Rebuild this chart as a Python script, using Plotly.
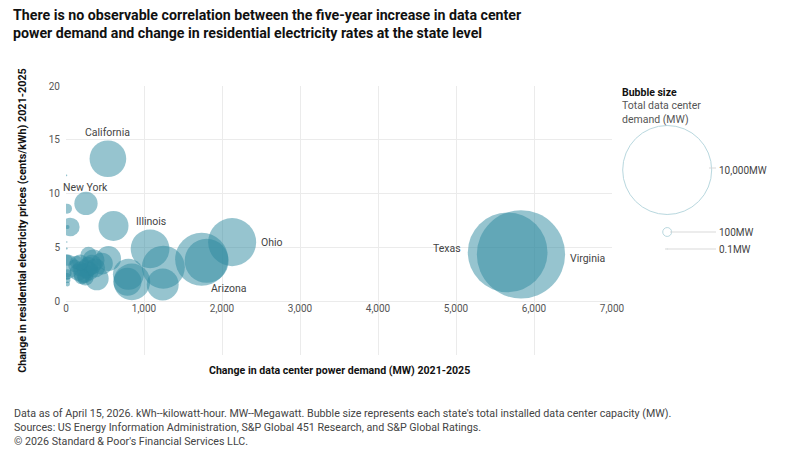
import plotly.graph_objects as go

# data
states = ["Virginia", "Texas", "California", "New York", "Ohio", "Arizona", "Illinois",
          "", "", "", "", "", "", "", "", "", "", "", "", "", "", "", "", "", "", "",
          "", "", "", "", "", "", "", "", "", "", "", "", "", "",
          "", "", "", "", ""]
demand_change = [5833, 5662, 537, 256, 2130, 1803, 1078,
                 1739, 1248, 1240, 609, 844, 788, 800, 545, 460, 396, 285, 353, 289,
                 225, 250, 157, 300, 110, 180, 5, 20, 20, 20, 20, 15, 10, 5, 13, 55,
                 20, 10, 230, 135,
                 330, 260, 380, 200, 183]
price_change = [4.35, 4.54, 13.24, 9.09, 5.49, 3.75, 4.87,
                3.9, 3.16, 1.55, 7.0, 1.8, 1.8, 2.5, 3.97, 3.5, 2.1, 3.2, 3.8, 4.3,
                2.6, 2.2, 2.7, 2.8, 3.3, 3.0, 3.2, 3.8, 2.6, 1.95, 1.6, 2.3, 5.5, 11.7, 8.6, 6.9,
                6.9, 4.9, 2.4, 3.6,
                3.4, 3.0, 3.1, 2.3, 3.6]
total_capacity = [9840, 8020, 1700, 685, 2910, 2440, 1900,
                  3550, 2330, 1290, 1136, 1700, 990, 1210, 790, 600, 700, 500, 600, 330,
                  530, 330, 380, 430, 200, 280, 790, 150, 80, 40, 30, 60, 3, 4, 126, 440,
                  20, 5, 270, 220,
                  500, 450, 450, 300, 320]

legend_values = [10000, 100, 0.1]
legend_labels = ["10,000MW", "100MW", "0.1MW"]

x_ticks = [0, 1000, 2000, 3000, 4000, 5000, 6000, 7000]
y_ticks = [-5, 0, 5, 10, 15, 20]
y_ticktext = ["", "0", "5", "10", "15", "20"]

# label placement (pixel offsets from each bubble centre)
label_pos = {
    "California": (0, 26, "center"),
    "New York": (0, 16, "center"),
    "Illinois": (1, 27, "center"),
    "Ohio": (27, 0, "left"),
    "Arizona": (22, -28, "center"),
    "Texas": (-45, 4, "right"),
    "Virginia": (47, -4, "left"),
}

W, H = 785, 450
OFF = 8  # page margin of the browser: positions below are screen pixels minus this
FONT = "Roboto"
bubble_color = "rgb(45,137,159)"
grid_color = "#ebebeb"
max_bubble_px = 89
ref_mw = 10000
sizeref = 2 * ref_mw / max_bubble_px ** 2


def px(v):
    return (v - OFF) / W


def py(v):
    return 1 - (v - OFF) / H


fig = go.Figure()

fig.add_trace(go.Scatter(
    x=demand_change,
    y=price_change,
    mode="markers",
    marker=dict(
        size=total_capacity,
        sizemode="area",
        sizeref=sizeref,
        color=bubble_color,
        opacity=0.5,
        line=dict(width=0),
    ),
    hovertext=states,
    showlegend=False,
))

# bubble size key, on its own axes in pixel units
key_y = [170, 232, 249]
fig.add_trace(go.Scatter(
    x=[45] * len(legend_values),
    y=[k - OFF for k in key_y],
    mode="markers",
    marker=dict(
        size=legend_values,
        sizemode="area",
        sizeref=sizeref,
        color="rgba(255,255,255,0)",
        line=dict(width=1, color="#9cc8d2"),
    ),
    xaxis="x2",
    yaxis="y2",
    hoverinfo="skip",
    showlegend=False,
))

annotations = []
for name, x, y in zip(states, demand_change, price_change):
    if name in label_pos:
        dx, dy, anchor = label_pos[name]
        annotations.append(dict(
            x=x, y=y, xref="x", yref="y", text=name, showarrow=False,
            xshift=dx, yshift=dy, xanchor=anchor, yanchor="middle",
            font=dict(family=FONT, size=10.5, color="#444"),
        ))

for lbl, ky in zip(legend_labels, key_y):
    annotations.append(dict(
        x=px(717), y=py(ky), xref="paper", yref="paper", text=lbl,
        showarrow=False, xanchor="left", yanchor="middle",
        font=dict(family=FONT, size=10, color="#444"),
    ))

annotations += [
    dict(x=px(12), y=py(6), xref="paper", yref="paper", xanchor="left", yanchor="top",
         align="left", showarrow=False, borderpad=0,
         text="<b>There is no observable correlation between the five-year increase in data center<br>"
              "power demand and change in residential electricity rates at the state level</b>",
         font=dict(family=FONT, size=14.2, color="#111")),
    dict(x=px(620), y=py(84), xref="paper", yref="paper", xanchor="left", yanchor="top",
         text="<b>Bubble size</b>", showarrow=False,
         font=dict(family=FONT, size=10.5, color="#111")),
    dict(x=px(620), y=py(97), xref="paper", yref="paper", xanchor="left", yanchor="top",
         text="Total data center<br>demand (MW)", showarrow=False, align="left",
         font=dict(family=FONT, size=10.5, color="#555")),
    dict(x=px(339), y=py(370), xref="paper", yref="paper", xanchor="center", yanchor="middle",
         text="<b>Change in data center power demand (MW) 2021-2025</b>", showarrow=False,
         font=dict(family=FONT, size=10.6, color="#111")),
    dict(x=px(12), y=py(405), xref="paper", yref="paper", xanchor="left", yanchor="top",
         align="left", showarrow=False,
         text="Data as of April 15, 2026. kWh--kilowatt-hour. MW--Megawatt. Bubble size represents "
              "each state's total installed data center capacity (MW).<br>"
              "Sources: US Energy Information Administration, S&P Global 451 Research, and S&P Global Ratings.<br>"
              "© 2026 Standard & Poor's Financial Services LLC.",
         font=dict(family=FONT, size=10.7, color="#444")),
]

shapes = [
    dict(type="line", xref="paper", yref="paper", x0=px(709), x1=px(716),
         y0=py(168), y1=py(168), line=dict(color="#d9d9d9", width=1)),
    dict(type="line", xref="paper", yref="paper", x0=px(670), x1=px(716),
         y0=py(232), y1=py(232), line=dict(color="#d9d9d9", width=1)),
    dict(type="line", xref="paper", yref="paper", x0=px(665), x1=px(716),
         y0=py(249), y1=py(249), line=dict(color="#d9d9d9", width=1)),
]

fig.update_layout(
    width=W, height=H,
    margin=dict(l=0, r=0, t=0, b=0, autoexpand=False),
    paper_bgcolor="white",
    plot_bgcolor="white",
    xaxis=dict(
        domain=[px(66), px(612)],
        range=[0, 7000],
        tickvals=x_ticks,
        tickformat=",d",
        showgrid=True, gridcolor=grid_color, gridwidth=1,
        zeroline=False, showline=False, ticks="",
        anchor="free", position=py(301),
        automargin=False,
        tickfont=dict(family=FONT, size=10, color="#555"),
    ),
    yaxis=dict(
        domain=[py(355), py(86)],
        range=[-5, 20],
        tickvals=y_ticks,
        ticktext=y_ticktext,
        showgrid=True, gridcolor=grid_color, gridwidth=1,
        zeroline=False, showline=False, ticks="",
        ticklabelstandoff=5,
        automargin=False,
        tickfont=dict(family=FONT, size=10, color="#555"),
        title=dict(text="<b>Change in residential electricity prices (cents/kWh) 2021-2025</b>",
                   font=dict(family=FONT, size=10.8, color="#111"), standoff=19),
    ),
    xaxis2=dict(domain=[px(620), 1], range=[0, 165], visible=False, fixedrange=True),
    yaxis2=dict(domain=[0, 1], range=[H, 0], visible=False, fixedrange=True, anchor="x2"),
    annotations=annotations,
    shapes=shapes,
)

fig.write_html("out.html")
